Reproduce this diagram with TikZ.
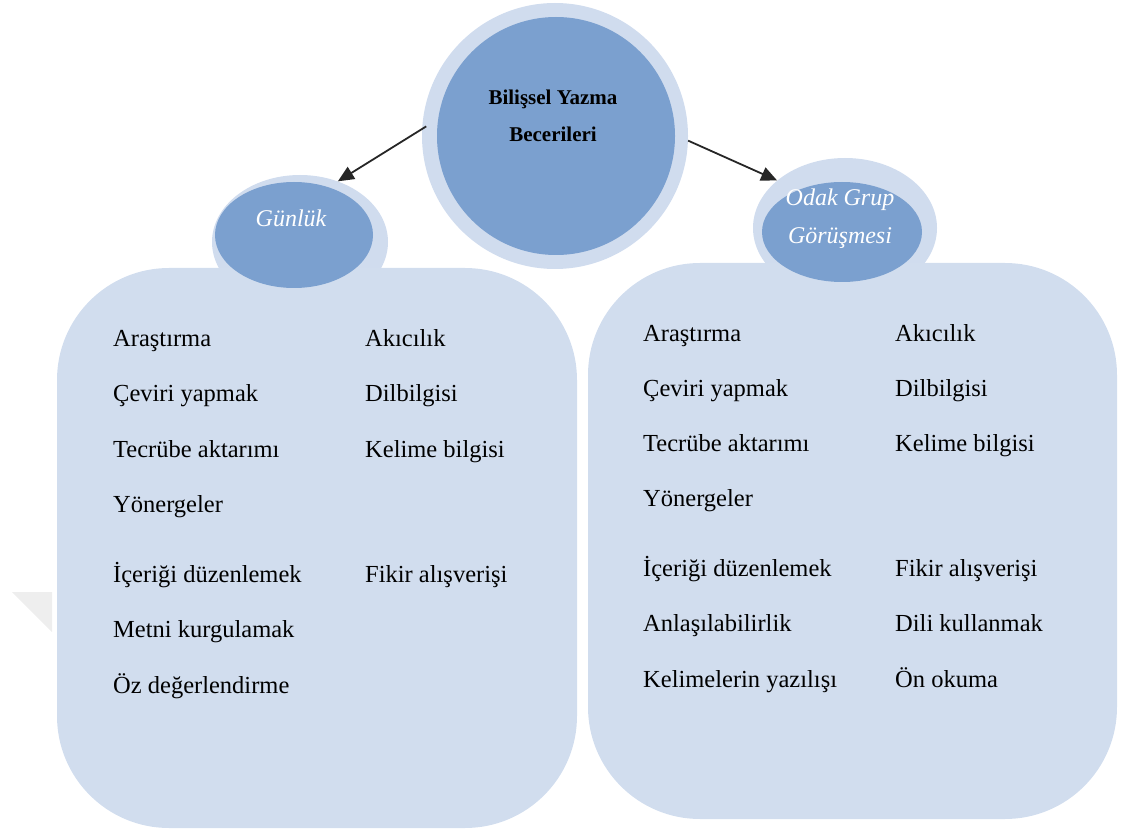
\documentclass[tikz,border=0pt]{standalone}
\usepackage{fontspec}
\setmainfont{Liberation Serif}
\usetikzlibrary{shapes.geometric,arrows.meta}

\definecolor{ringblue}{RGB}{208,220,238}
\definecolor{panelblue}{RGB}{209,221,238}
\definecolor{coreblue}{RGB}{123,160,207}
\definecolor{markgray}{RGB}{238,238,238}

\begin{document}
\begin{tikzpicture}[x=1pt,y=-1pt,
  panel/.style={fill=panelblue, draw=none, rounded corners=112pt},
  halo/.style={ellipse, fill=ringblue, draw=none, inner sep=0pt},
  core/.style={ellipse, fill=coreblue, draw=none, inner sep=0pt},
  item/.style={anchor=base west, inner sep=0pt, font=\fontsize{24.5}{29}\selectfont, text=black},
  tag/.style={align=center, inner sep=0pt, text=white, font=\itshape\fontsize{24}{38}\selectfont},
  link/.style={-{Triangle[length=16pt,width=14pt]}, line width=1.8pt, black!85}
]
\useasboundingbox (0,0) rectangle (1125,829);

% faint corner mark on the left margin
\fill[markgray] (12,592) -- (52,592) -- (52,632) -- cycle;

% halos of the two category ellipses (behind the panels)
\node[halo, minimum width=176pt, minimum height=134pt] (gunring) at (300,242) {};
\node[halo, minimum width=184pt, minimum height=140pt] (odakring) at (845,228) {};

% the two content panels
\fill[panel] (57,268) rectangle (577,828);
\fill[panel] (588,263) rectangle (1117,819);

% category ellipses
\node[core, minimum width=158pt, minimum height=106pt] (gun) at (294,235) {};
\node[core, minimum width=160pt, minimum height=100pt] (odak) at (842,232) {};
\node[tag] (guntext) at (291,218) {Günlük};
\node[tag] (odaktext) at (840,219) {Odak Grup\\Görüşmesi};

% central circle
\node[circle, fill=ringblue, draw=none, minimum size=266pt, inner sep=0pt] (bigring) at (555,136) {};
\node[circle, fill=coreblue, draw=none, minimum size=238pt, inner sep=0pt] (big) at (556,136) {};
\node[align=center, inner sep=0pt, font=\bfseries\fontsize{21}{37}\selectfont] (bigtext) at (553,116) {Bilişsel Yazma\\Becerileri};

% connectors
\draw[link, shorten <=-5pt] (bigring.177) -- (gunring.58);
\draw[link] (bigring.-2) -- (odakring.145);

% left panel items
\node[item] (l1) at (113,346) {Araştırma};
\node[item] (l2) at (113,401) {Çeviri yapmak};
\node[item] (l3) at (113,457) {Tecrübe aktarımı};
\node[item] (l4) at (113,512) {Yönergeler};
\node[item] (l5) at (113,582) {İçeriği düzenlemek};
\node[item] (l6) at (113,637) {Metni kurgulamak};
\node[item] (l7) at (113,693) {Öz değerlendirme};
\node[item] (l8) at (365,346) {Akıcılık};
\node[item] (l9) at (365,401) {Dilbilgisi};
\node[item] (l10) at (365,457) {Kelime bilgisi};
\node[item] (l11) at (365,582) {Fikir alışverişi};

% right panel items
\node[item] (r1) at (643,341) {Araştırma};
\node[item] (r2) at (643,396) {Çeviri yapmak};
\node[item] (r3) at (643,451) {Tecrübe aktarımı};
\node[item] (r4) at (643,506) {Yönergeler};
\node[item] (r5) at (643,576) {İçeriği düzenlemek};
\node[item] (r6) at (643,631) {Anlaşılabilirlik};
\node[item] (r7) at (643,687) {Kelimelerin yazılışı};
\node[item] (r8) at (895,341) {Akıcılık};
\node[item] (r9) at (895,396) {Dilbilgisi};
\node[item] (r10) at (895,451) {Kelime bilgisi};
\node[item] (r11) at (895,576) {Fikir alışverişi};
\node[item] (r12) at (895,631) {Dili kullanmak};
\node[item] (r13) at (895,687) {Ön okuma};
\end{tikzpicture}
\end{document}
